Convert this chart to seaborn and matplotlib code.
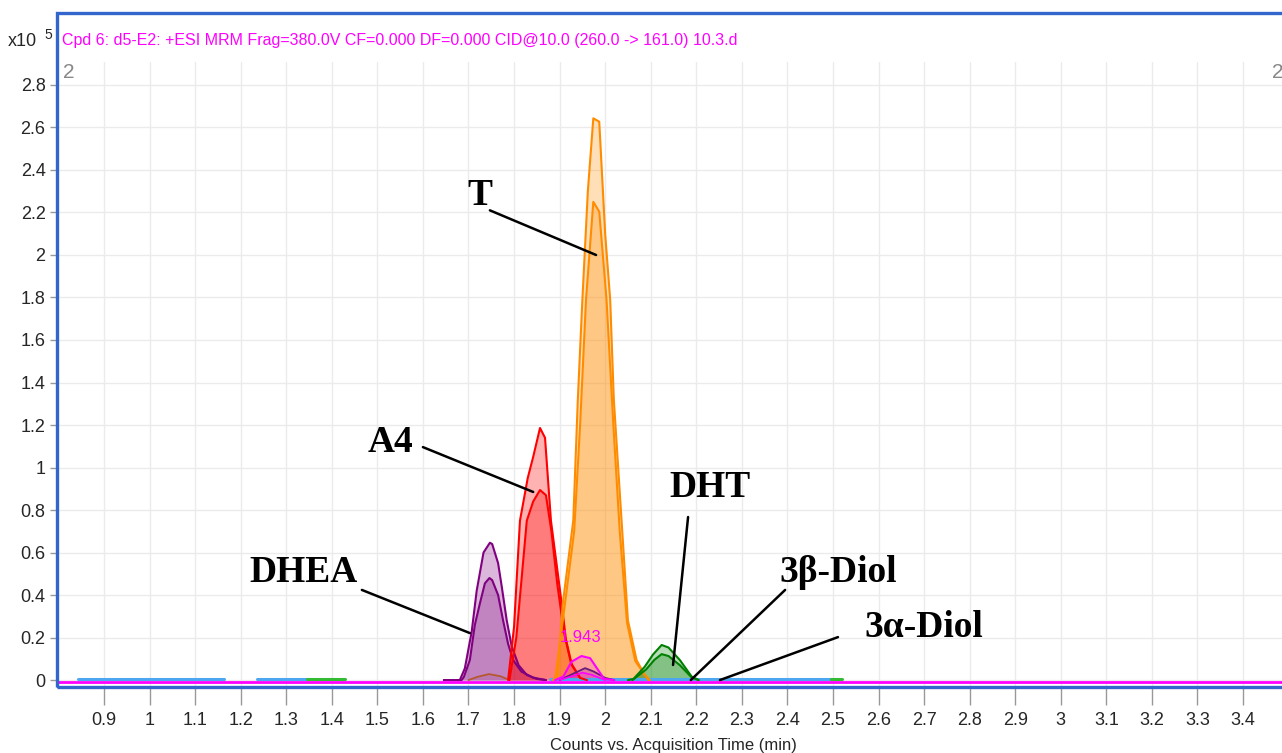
import matplotlib
matplotlib.use('Agg')
import matplotlib.pyplot as plt
from matplotlib import font_manager
from matplotlib.patches import Rectangle
import pandas as pd
import seaborn as sns

# chromatogram traces (time in min, counts x10^5)
dhea_t1 = [1.646, 1.681, 1.692, 1.707, 1.718, 1.733, 1.747, 1.752, 1.765, 1.773, 1.784, 1.795, 1.81, 1.828, 1.85, 1.87]
dhea_y1 = [0, 0, 0.055, 0.227, 0.42, 0.60, 0.646, 0.64, 0.55, 0.44, 0.28, 0.157, 0.07, 0.024, 0.005, 0]
dhea_t2 = [1.646, 1.685, 1.69, 1.703, 1.714, 1.725, 1.736, 1.746, 1.752, 1.765, 1.776, 1.787, 1.798, 1.816, 1.841, 1.87]
dhea_y2 = [0, 0, 0.015, 0.094, 0.26, 0.36, 0.455, 0.48, 0.47, 0.40, 0.28, 0.17, 0.094, 0.04, 0.012, 0]

a4_t1 = [1.787, 1.80, 1.813, 1.83, 1.842, 1.857, 1.868, 1.881, 1.901, 1.914, 1.927, 1.945]
a4_y1 = [0, 0.25, 0.75, 0.95, 1.05, 1.186, 1.14, 0.75, 0.42, 0.19, 0.07, 0.01]
a4_t2 = [1.79, 1.805, 1.828, 1.842, 1.857, 1.87, 1.882, 1.895, 1.91, 1.925, 1.945, 1.96]
a4_y2 = [0, 0.2, 0.75, 0.84, 0.894, 0.87, 0.7, 0.45, 0.22, 0.08, 0.01, 0]

t_t1 = [1.885, 1.895, 1.907, 1.93, 1.94, 1.95, 1.962, 1.974, 1.987, 2.0, 2.011, 2.019, 2.036, 2.05, 2.069, 2.085, 2.098]
t_y1 = [0, 0.02, 0.36, 0.75, 1.32, 1.79, 2.3, 2.643, 2.627, 2.1, 1.79, 1.32, 0.75, 0.28, 0.094, 0.03, 0]
t_t2 = [1.89, 1.91, 1.932, 1.945, 1.958, 1.974, 1.987, 2.003, 2.018, 2.032, 2.048, 2.066, 2.095]
t_y2 = [0, 0.33, 0.7, 1.2, 1.79, 2.25, 2.204, 1.79, 1.2, 0.7, 0.27, 0.09, 0]

dht_t1 = [2.05, 2.062, 2.087, 2.105, 2.124, 2.139, 2.164, 2.19, 2.205]
dht_y1 = [0, 0.005, 0.063, 0.12, 0.165, 0.153, 0.094, 0.016, 0]
dht_t2 = [2.06, 2.09, 2.108, 2.124, 2.139, 2.164, 2.19, 2.205]
dht_y2 = [0, 0.05, 0.095, 0.122, 0.113, 0.07, 0.012, 0]

e2_t1 = [1.89, 1.908, 1.926, 1.948, 1.967, 1.989, 1.998, 2.02]
e2_y1 = [0, 0.016, 0.086, 0.113, 0.103, 0.033, 0.005, 0]
e2_t2 = [1.90, 1.93, 1.95, 1.97, 2.0]
e2_y2 = [0, 0.02, 0.035, 0.025, 0]

diol_t = [1.90, 1.93, 1.956, 1.975, 2.0, 2.02]
diol_y = [0, 0.03, 0.056, 0.04, 0.01, 0]
bump_t = [1.70, 1.72, 1.745, 1.77, 1.79]
bump_y = [0, 0.015, 0.028, 0.018, 0]

# flat baseline segments (start, end)
blue_segs = [(0.843, 1.163), (1.236, 1.346), (1.88, 2.495)]
green_segs = [(1.346, 1.429), (2.495, 2.52)]
magenta_base = (0.8, 3.5)

xticks = [0.9, 1.0, 1.1, 1.2, 1.3, 1.4, 1.5, 1.6, 1.7, 1.8, 1.9, 2.0, 2.1, 2.2, 2.3,
          2.4, 2.5, 2.6, 2.7, 2.8, 2.9, 3.0, 3.1, 3.2, 3.3, 3.4]
yticks = [0, 0.2, 0.4, 0.6, 0.8, 1.0, 1.2, 1.4, 1.6, 1.8, 2.0, 2.2, 2.4, 2.6, 2.8]

labels = ['T', 'A4', 'DHT', 'DHEA', '3β-Diol', '3α-Diol']
label_x = [1.725, 1.528, 2.230, 1.337, 2.511, 2.700]
label_y = [2.282, 1.12, 0.908, 0.508, 0.508, 0.245]
line_from = [(1.747, 2.21), (1.600, 1.096), (2.182, 0.767), (1.466, 0.424), (2.395, 0.424), (2.511, 0.202)]
line_to = [(1.98, 2.0), (1.842, 0.885), (2.149, 0.071), (1.703, 0.221), (2.188, 0.0), (2.252, 0.0)]

title = 'Cpd 6: d5-E2: +ESI MRM Frag=380.0V CF=0.000 DF=0.000 CID@10.0 (260.0 -> 161.0) 10.3.d'

sns.set_style('white')
names = {f.name for f in font_manager.fontManager.ttflist}
narrow = 'Liberation Sans Narrow' if 'Liberation Sans Narrow' in names else 'Liberation Sans'
plt.rcParams['font.family'] = [narrow, 'DejaVu Sans']

W, H = 1282, 753
fig = plt.figure(figsize=(W / 100, H / 100), dpi=100)
ax = fig.add_axes([58 / W, 67 / H, 1231 / W, 624 / H])


def trace(t, y, color, alpha, lw=1.5):
    ax.fill_between(t, y, 0, color=color, alpha=alpha, lw=0)
    df = pd.DataFrame({'t': t, 'y': y})
    sns.lineplot(data=df, x='t', y='y', color=color, lw=lw, ax=ax, estimator=None, sort=False)


for s, e in blue_segs:
    sns.lineplot(x=[s, e], y=[0.004, 0.004], color='#4da6f0', lw=2.2, ax=ax, estimator=None)
for s, e in green_segs:
    sns.lineplot(x=[s, e], y=[0.004, 0.004], color='#33bb33', lw=2.2, ax=ax, estimator=None)

trace(bump_t, bump_y, '#b5582f', 0.15, 1.3)
trace(dhea_t1, dhea_y1, '#800080', 0.28)
trace(dhea_t2, dhea_y2, '#800080', 0.28)
trace(a4_t1, a4_y1, '#ff0000', 0.3)
trace(a4_t2, a4_y2, '#ff0000', 0.3)
trace(t_t1, t_y1, '#ff8c00', 0.28)
trace(t_t2, t_y2, '#ff8c00', 0.28)
trace(dht_t1, dht_y1, '#008000', 0.28)
trace(dht_t2, dht_y2, '#008000', 0.28)
trace(diol_t, diol_y, '#6a1b7a', 0.25, 1.3)
trace(e2_t1, e2_y1, '#ff00ff', 0.2)
trace(e2_t2, e2_y2, '#ff00ff', 0.2, 1.2)
sns.lineplot(x=list(magenta_base), y=[-0.008, -0.008], color='#ff00ff', lw=2.0, ax=ax, estimator=None)

ax.text(1.945, 0.202, '1.943', color='#ff00ff', fontsize=12, ha='center', va='center')

for lab, lx, ly, p0, p1 in zip(labels, label_x, label_y, line_from, line_to):
    ax.text(lx, ly, lab, ha='center', va='center', fontsize=27, fontweight='bold',
            family=['Liberation Serif', 'DejaVu Serif'], color='black')
    ax.annotate('', xy=p1, xytext=p0,
                arrowprops=dict(arrowstyle='-', lw=1.8, color='black', shrinkA=0, shrinkB=0))

ax.set_xlim(0.799, 3.501)
ax.set_ylim(-0.028, 2.908)
ax.set_xticks(xticks)
ax.set_xticklabels([f'{v:g}' for v in xticks])
ax.set_yticks(yticks)
ax.set_yticklabels([f'{v:g}' for v in yticks])
ax.grid(True, color='#ebebeb', lw=1)
for sp in ax.spines.values():
    sp.set_visible(False)
ax.tick_params(axis='x', direction='out', length=14, width=1, color='#999999', pad=5, labelsize=13)
ax.tick_params(axis='y', direction='out', length=6, width=1, color='#999999', pad=3, labelsize=13)
ax.tick_params(bottom=True, left=True)
ax.set_xlabel('Counts vs. Acquisition Time (min)', fontsize=12, labelpad=6)
ax.set_ylabel('')

# instrument frame
fig.patches.append(Rectangle((57 / W, 66 / H), 1240 / W, 674 / H, transform=fig.transFigure,
                             fill=False, edgecolor='#3366cc', lw=2.4, zorder=5))
fig.text(62 / W, 1 - 40 / H, title, color='#ff00ff', fontsize=11.5, va='center')
fig.text(8 / W, 1 - 41 / H, 'x10', fontsize=13, va='center')
fig.text(44 / W, 1 - 35 / H, '5', fontsize=10, va='center')
fig.text(63 / W, 1 - 73 / H, '2', color='#888888', fontsize=15, va='center')
fig.text(1272 / W, 1 - 73 / H, '2', color='#888888', fontsize=15, va='center')

fig.savefig('out.png', dpi=100)
